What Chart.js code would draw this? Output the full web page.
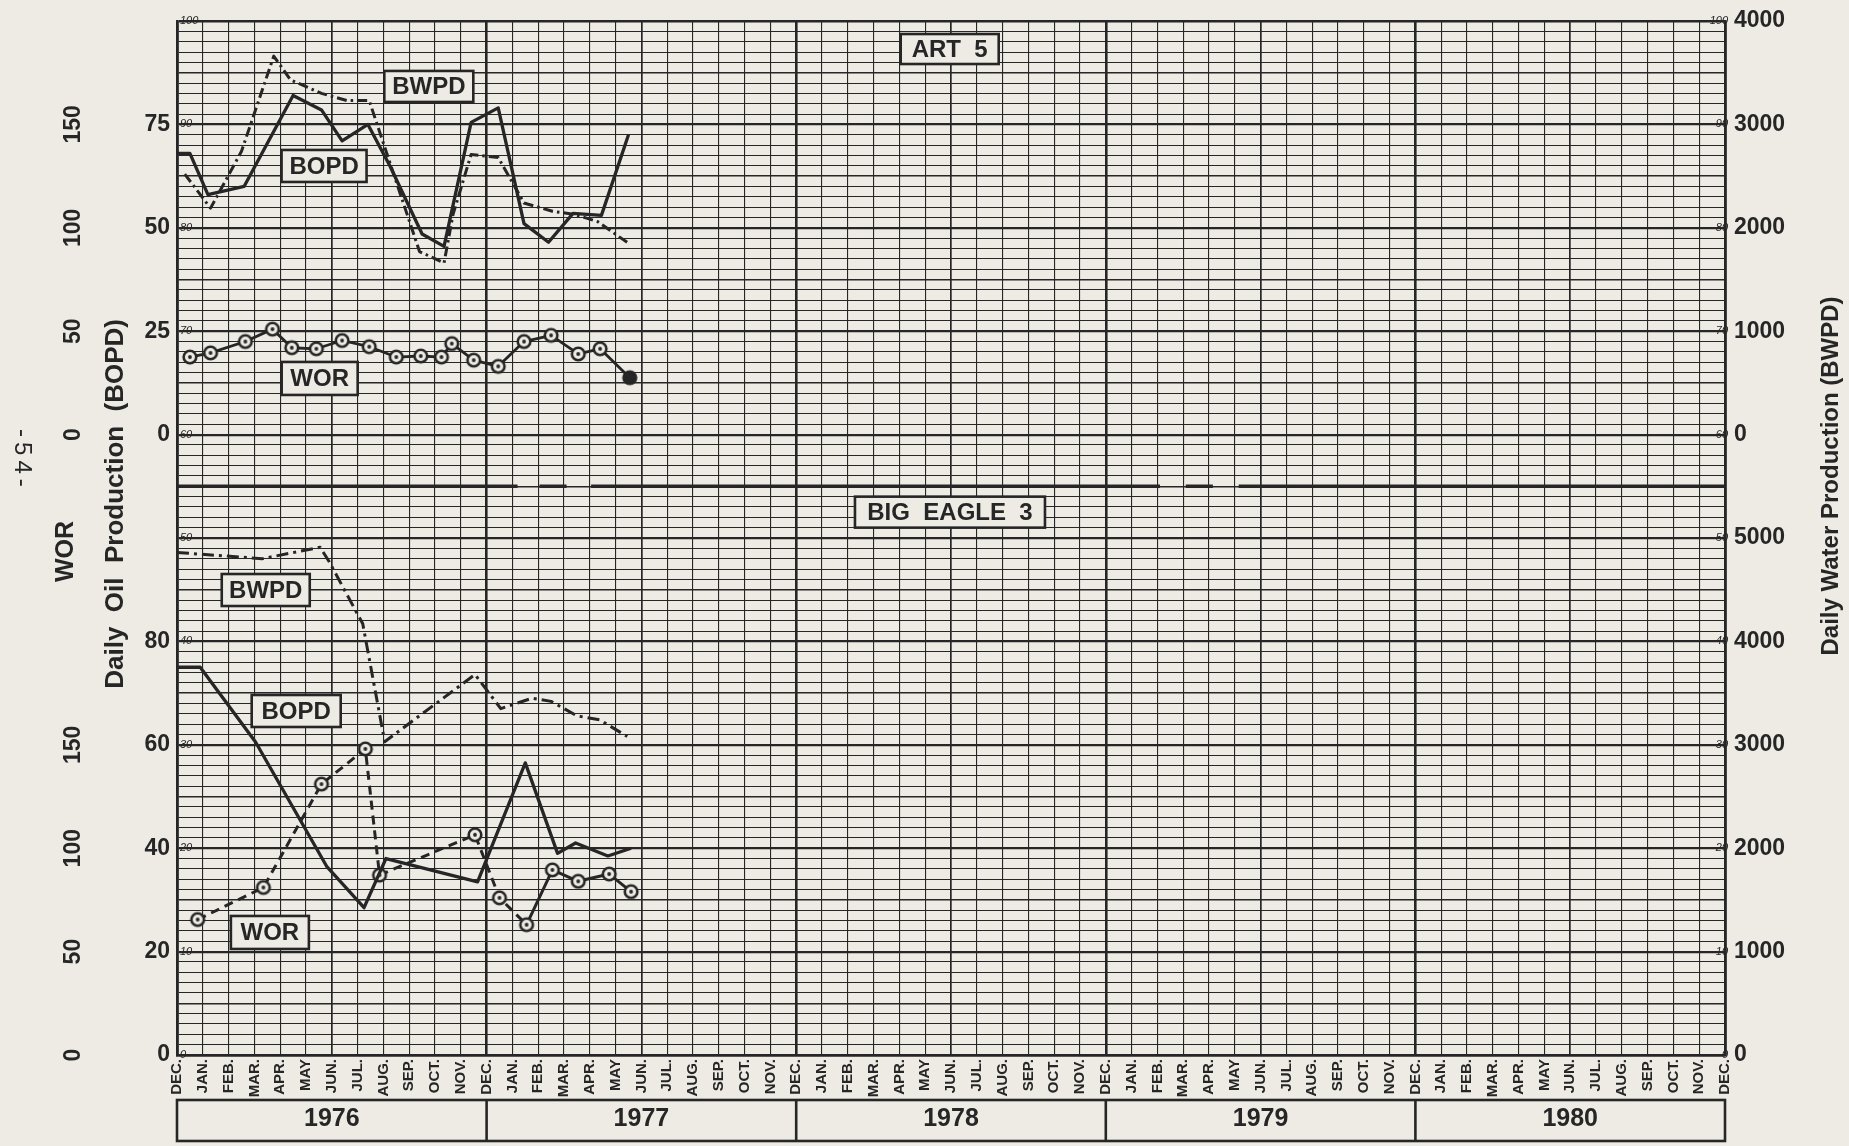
<!DOCTYPE html>
<html><head><meta charset="utf-8">
<script src="https://cdn.jsdelivr.net/npm/chart.js@4.4.1/dist/chart.umd.min.js"></script>
<style>html,body{margin:0;padding:0;background:#eeebe4;}#wrap{width:1849px;height:1146px;}</style>
</head><body><div id="wrap"><canvas id="c" width="1849" height="1146"></canvas></div>
<script>
// ---------------- data ----------------
const monthNames = ['DEC.','JAN.','FEB.','MAR.','APR.','MAY','JUN.','JUL.','AUG.','SEP.','OCT.','NOV.'];
const monthLabels = [].concat(monthNames, monthNames, monthNames, monthNames, monthNames, ['DEC.']);
const yearLabels = ['1976','1977','1978','1979','1980'];

// ART 5 (top panel)
const artBopdMonth = [0, 0.5, 1.2, 2.6, 4.5, 5.6, 6.4, 7.4, 8.25, 9.5, 10.35, 11.4, 12.45, 13.45, 14.4, 15.35, 16.45, 17.5];
const artBopd      = [68, 68, 58, 60, 82, 78.5, 71, 75, 65, 48.5, 45.5, 75.5, 79, 51, 46.5, 53.5, 53, 72.5];
const artBwpdMonth = [0.3, 1.3, 2.5, 3.75, 4.4, 5.6, 6.6, 7.45, 7.85, 9.4, 10.35, 10.7, 11.4, 12.45, 13.45, 14.55, 15.4, 16.3, 17.5];
const artBwpd      = [2520, 2190, 2740, 3660, 3430, 3300, 3230, 3230, 2930, 1770, 1660, 2130, 2710, 2680, 2240, 2160, 2130, 2060, 1850];
const artWorMonth  = [0.5, 1.3, 2.65, 3.7, 4.45, 5.4, 6.4, 7.45, 8.5, 9.45, 10.25, 10.65, 11.5, 12.45, 13.45, 14.5, 15.55, 16.4, 17.55];
const artWor       = [37.5, 39.5, 45, 51, 42, 41.5, 45.5, 42.5, 37.5, 38, 37.5, 44, 36, 33, 45, 48, 39, 41.5, 27.5];

// BIG EAGLE 3 (bottom panel)
const beBopdMonth = [0, 0.9, 3.05, 5.8, 7.25, 8.1, 11.65, 13.5, 14.75, 15.45, 16.7, 17.6];
const beBopd      = [75, 75, 60.5, 36.5, 28.5, 38, 33.5, 56.5, 39, 41, 38.5, 40];
const beBwpdMonth = [0, 3.3, 5.55, 5.9, 7.2, 8.05, 11.55, 12.55, 13.75, 14.5, 15.5, 16.4, 17.45];
const beBwpd      = [4860, 4800, 4910, 4770, 4170, 3030, 3680, 3350, 3450, 3420, 3280, 3240, 3080];
const beWorMonth  = [0.8, 3.35, 5.6, 7.3, 7.85, 11.55, 12.5, 13.55, 14.55, 15.55, 16.75, 17.6];
const beWor       = [65.5, 81, 131, 148, 87, 106.5, 76, 63, 89.5, 84, 87.5, 79];

// axis tick labels
const topWorTicks  = [0, 50, 100, 150];
const botWorTicks  = [0, 50, 100, 150];
const topBopdTicks = [0, 25, 50, 75];
const botBopdTicks = [0, 20, 40, 60, 80];
const topBwpdTicks = [0, 1000, 2000, 3000, 4000];
const botBwpdTicks = [0, 1000, 2000, 3000, 4000, 5000];

// each series scale spans the whole graph-paper height (paper units 0..100)
const ranges = {
  topBopd: [-150, 100], topWor: [-300, 200], topBwpd: [-6000, 4000],
  botBopd: [0, 200],    botWor: [0, 500],    botBwpd: [0, 10000]
};
// ---------------- style / layout ----------------
const INK = '#262626', PAPER = '#eeebe4';
const FONT = '"Liberation Sans", Arial, Helvetica, sans-serif';
Chart.defaults.font.family = FONT;
Chart.defaults.color = INK;

const toPaper = (v, r) => (v - r[0]) / (r[1] - r[0]) * 100;
const worTickPos  = topWorTicks.map(v => toPaper(v, ranges.topWor)).concat(botWorTicks.map(v => toPaper(v, ranges.botWor)));
const worTickText = topWorTicks.concat(botWorTicks).map(String);
const bopdTickPos  = topBopdTicks.map(v => toPaper(v, ranges.topBopd)).concat(botBopdTicks.map(v => toPaper(v, ranges.botBopd)));
const bopdTickText = topBopdTicks.concat(botBopdTicks).map(String);
const bwpdTickPos  = topBwpdTicks.map(v => toPaper(v, ranges.topBwpd)).concat(botBwpdTicks.map(v => toPaper(v, ranges.botBwpd)));
const bwpdTickText = topBwpdTicks.concat(botBwpdTicks).map(String);

const pts = (xs, ys) => xs.map((x, i) => ({x: x, y: ys[i]}));

function marker(filled) {
  const c = document.createElement('canvas'); const s = 18; c.width = s; c.height = s;
  const g = c.getContext('2d');
  g.beginPath(); g.arc(s/2, s/2, 6.3, 0, Math.PI*2);
  g.fillStyle = filled ? INK : PAPER; g.fill();
  g.lineWidth = 2.6; g.strokeStyle = INK; g.stroke();
  if (!filled) { g.beginPath(); g.arc(s/2, s/2, 1.9, 0, Math.PI*2); g.fillStyle = INK; g.fill(); }
  return c;
}
const mOpen = marker(false), mFilled = marker(true);

const boxLabels = [
  {text: 'BWPD', m: 9.76, p: 93.67, w: 89, h: 31},
  {text: 'BOPD', m: 5.70, p: 85.98, w: 85, h: 32},
  {text: 'WOR',  m: 5.53, p: 65.43, w: 76, h: 33},
  {text: 'ART  5', m: 29.95, p: 97.29, w: 98, h: 30},
  {text: 'BIG  EAGLE  3', m: 29.96, p: 52.5, w: 190, h: 31},
  {text: 'BWPD', m: 3.44, p: 44.97, w: 88, h: 32},
  {text: 'BOPD', m: 4.62, p: 33.27, w: 89, h: 32},
  {text: 'WOR',  m: 3.60, p: 11.85, w: 78, h: 33}
];
const dividerPaper = 55;
const dividerGaps = [[13.2, 14.05], [15.1, 16.05], [38.1, 39.1], [40.15, 41.15]];

const decor = {
  id: 'decor',
  beforeDraw(chart) {
    const c = chart.ctx; c.save(); c.fillStyle = PAPER; c.fillRect(0, 0, chart.width, chart.height); c.restore();
  },
  beforeDatasetsDraw(chart) {
    const c = chart.ctx, x = chart.scales.x, y = chart.scales.yL;
    const py = y.getPixelForValue(dividerPaper);
    c.save(); c.strokeStyle = INK; c.lineWidth = 3.6; c.beginPath();
    let start = 0;
    dividerGaps.concat([[60, 60]]).forEach(g => {
      c.moveTo(x.getPixelForValue(start), py); c.lineTo(x.getPixelForValue(g[0]), py); start = g[1];
    });
    c.stroke(); c.restore();
  },
  afterDatasetsDraw(chart) {
    const c = chart.ctx, x = chart.scales.x, y = chart.scales.yL;
    c.save();
    boxLabels.forEach(b => {
      const cx = x.getPixelForValue(b.m), cy = y.getPixelForValue(b.p);
      c.fillStyle = PAPER; c.fillRect(cx - b.w/2, cy - b.h/2, b.w, b.h);
      c.strokeStyle = INK; c.lineWidth = 2.6; c.strokeRect(cx - b.w/2, cy - b.h/2, b.w, b.h);
      c.fillStyle = INK; c.font = 'bold 24px ' + FONT; c.textAlign = 'center'; c.textBaseline = 'middle';
      c.fillText(b.text, cx, cy + 1);
    });
    c.restore();
  },
  afterDraw(chart) {
    const c = chart.ctx, xy = chart.scales.xYear, y = chart.scales.yL;
    c.save();
    c.strokeStyle = INK; c.lineWidth = 2.6;
    const top = xy.top + 2, bot = xy.bottom - 5;
    c.strokeRect(xy.getPixelForValue(0), top, xy.getPixelForValue(60) - xy.getPixelForValue(0), bot - top);
    for (let k = 12; k < 60; k += 12) {
      c.beginPath(); c.moveTo(xy.getPixelForValue(k), top); c.lineTo(xy.getPixelForValue(k), bot); c.stroke();
    }
    c.fillStyle = INK; c.textAlign = 'center'; c.textBaseline = 'middle';
    const rot = (t, px, p, ang, font, spacing) => {
      c.save(); c.translate(px, y.getPixelForValue(p)); c.rotate(ang); c.font = font;
      if (spacing) c.letterSpacing = spacing;
      c.fillText(t, 0, 0); c.restore();
    };
    rot('WOR', 66, 48.7, -Math.PI/2, 'bold 25px ' + FONT);
    rot('Daily  Oil  Production  (BOPD)', 116, 53.3, -Math.PI/2, 'bold 26px ' + FONT);
    rot('Daily Water Production (BWPD)', 1831, 56, -Math.PI/2, 'bold 24px ' + FONT);
    rot('-54-', 22, 57.5, Math.PI/2, '24px ' + FONT, '5px');
    c.restore();
  }
};

const hidden = (r) => ({type: 'linear', display: false, min: r[0], max: r[1]});
const hGridWidth = (ctx) => {
  const v = Math.round(ctx.tick.value);
  if (v === 0 || v === 100) return 2.6;
  if (v % 10 === 0) return 2.2;
  if (v % 5 === 0) return 1.4;
  return 1;
};
const fixV = (w) => (s) => { s.width = w; s.paddingTop = 0; s.paddingBottom = 0; };
const fixH = (h) => (s) => { s.height = h; s.paddingLeft = 0; s.paddingRight = 0; };

new Chart(document.getElementById('c'), {
  type: 'line',
  data: {
    datasets: [
      {label: 'ART 5 BOPD', data: pts(artBopdMonth, artBopd), yAxisID: 'yTopBopd', borderColor: INK, borderWidth: 3.3, pointRadius: 0},
      {label: 'ART 5 BWPD', data: pts(artBwpdMonth, artBwpd), yAxisID: 'yTopBwpd', borderColor: INK, borderWidth: 3, borderDash: [10, 4, 2.5, 4], pointRadius: 0},
      {label: 'ART 5 WOR', data: pts(artWorMonth, artWor), yAxisID: 'yTopWor', borderColor: INK, borderWidth: 2.8,
        pointRadius: 6, pointStyle: (ctx) => ctx.dataIndex === artWor.length - 1 ? mFilled : mOpen},
      {label: 'BIG EAGLE 3 BOPD', data: pts(beBopdMonth, beBopd), yAxisID: 'yBotBopd', borderColor: INK, borderWidth: 3.3, pointRadius: 0},
      {label: 'BIG EAGLE 3 BWPD', data: pts(beBwpdMonth, beBwpd), yAxisID: 'yBotBwpd', borderColor: INK, borderWidth: 3, borderDash: [12, 5, 3, 5], pointRadius: 0},
      {label: 'BIG EAGLE 3 WOR', data: pts(beWorMonth, beWor), yAxisID: 'yBotWor', borderColor: INK, borderWidth: 3,
        pointRadius: 6, pointStyle: mOpen,
        segment: {borderDash: (ctx) => ctx.p1DataIndex <= 7 ? [9, 6] : []}}
    ].map(d => Object.assign({xAxisID: 'x', tension: 0, fill: false, borderJoinStyle: 'round', borderCapStyle: 'butt'}, d))
  },
  options: {
    responsive: false,
    animation: false,
    devicePixelRatio: 1,
    layout: {padding: {top: 21, left: 0, right: 0, bottom: 0}},
    plugins: {legend: {display: false}, tooltip: {enabled: false}, title: {display: false}},
    scales: {
      x: {
        type: 'linear', position: 'bottom', min: 0, max: 60, weight: 0,
        afterBuildTicks: s => { s.ticks = monthLabels.map((_, i) => ({value: i})); },
        afterFit: fixH(43),
        ticks: {autoSkip: false, minRotation: 90, maxRotation: 90, padding: 4, color: INK,
          font: {size: 15, weight: 'bold'}, callback: (v) => monthLabels[Math.round(v)]},
        grid: {color: INK, drawTicks: false,
          lineWidth: c => { const v = Math.round(c.tick.value); return v % 12 === 0 ? 2.6 : (v % 6 === 0 ? 1.7 : 1.1); }},
        border: {display: true, color: INK, width: 2.6}
      },
      xYear: {
        type: 'linear', position: 'bottom', min: 0, max: 60, weight: 1,
        afterBuildTicks: s => { s.ticks = yearLabels.map((_, i) => ({value: 6 + 12 * i})); },
        afterFit: fixH(48),
        ticks: {autoSkip: false, minRotation: 0, maxRotation: 0, padding: 6, color: INK,
          font: {size: 25, weight: 'bold'}, callback: (v, i) => yearLabels[i]},
        grid: {display: false, drawTicks: false},
        border: {display: false}
      },
      yL: {
        type: 'linear', position: 'left', min: 0, max: 100, weight: 0,
        afterBuildTicks: s => { s.ticks = Array.from({length: 101}, (_, i) => ({value: i})); },
        afterFit: fixV(0),
        ticks: {autoSkip: false, mirror: true, padding: 3, color: INK, font: {size: 11, style: 'italic'},
          callback: v => (Math.round(v) % 10 === 0 ? String(Math.round(v)) : '')},
        grid: {color: INK, drawTicks: false, lineWidth: hGridWidth},
        border: {display: true, color: INK, width: 2.6}
      },
      yR: {
        type: 'linear', position: 'right', min: 0, max: 100, weight: 0,
        afterBuildTicks: s => { s.ticks = Array.from({length: 11}, (_, i) => ({value: i * 10})); },
        afterFit: fixV(0),
        ticks: {autoSkip: false, mirror: true, padding: 3, color: INK, font: {size: 11, style: 'italic'},
          callback: v => String(Math.round(v))},
        grid: {display: false, drawTicks: false},
        border: {display: true, color: INK, width: 2.6}
      },
      yWor: {
        type: 'linear', position: 'left', min: 0, max: 100, weight: 2,
        afterBuildTicks: s => { s.ticks = worTickPos.map(v => ({value: v})); },
        afterFit: fixV(100),
        ticks: {autoSkip: false, minRotation: 90, maxRotation: 90, crossAlign: 'center', padding: 7, color: INK,
          font: {size: 23, weight: 'bold'}, callback: (v, i) => worTickText[i]},
        grid: {display: false, drawTicks: false},
        border: {display: false}
      },
      yBopd: {
        type: 'linear', position: 'left', min: 0, max: 100, weight: 1,
        afterBuildTicks: s => { s.ticks = bopdTickPos.map(v => ({value: v})); },
        afterFit: fixV(77),
        ticks: {autoSkip: false, padding: 7, color: INK, font: {size: 23, weight: 'bold'}, callback: (v, i) => bopdTickText[i]},
        grid: {display: false, drawTicks: false},
        border: {display: false}
      },
      yBwpd: {
        type: 'linear', position: 'right', min: 0, max: 100, weight: 1,
        afterBuildTicks: s => { s.ticks = bwpdTickPos.map(v => ({value: v})); },
        afterFit: fixV(124),
        ticks: {autoSkip: false, padding: 9, color: INK, font: {size: 23, weight: 'bold'}, callback: (v, i) => bwpdTickText[i]},
        grid: {display: false, drawTicks: false},
        border: {display: false}
      },
      yTopBopd: hidden(ranges.topBopd),
      yTopWor: hidden(ranges.topWor),
      yTopBwpd: hidden(ranges.topBwpd),
      yBotBopd: hidden(ranges.botBopd),
      yBotWor: hidden(ranges.botWor),
      yBotBwpd: hidden(ranges.botBwpd)
    }
  },
  plugins: [decor]
});
</script>
</body></html>
